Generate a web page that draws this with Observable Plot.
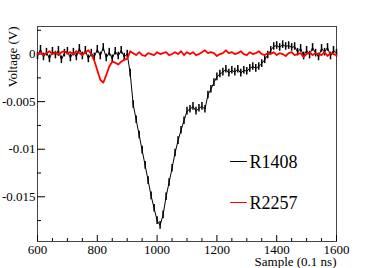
<!DOCTYPE html>
<html><head><meta charset="utf-8">
<script src="https://cdn.jsdelivr.net/npm/d3@7"></script>
<script src="https://cdn.jsdelivr.net/npm/@observablehq/plot@0.6"></script>
<style>
body{margin:0;background:#fff}
</style>
</head><body><div id="chart"></div>
<script>
// sample index -> sample number: 600 + 10*i
const sampleStart = 600, sampleStep = 10;
const seriesNames = ["R1408", "R2257"];
const seriesColors = ["#000000", "#ff0000"];
const r1408 = [
 -0.0002, 0.0005, -0.0003, 0.0002, -0.0005, 0.0003, -0.0001, 0.0004, -0.0006, 0.0001,
 0.0003, -0.0004, 0.0002, -0.0003, 0.0006, -0.0002, 0.0004, -0.0005, 0.0001, -0.0003,
 0.0005, -0.0002, 0.0007, -0.0004, 0.0002, -0.0005, 0.0003, -0.0002, 0.0004, -0.0003,
 0.0000,
 -0.0020, -0.0053, -0.0069, -0.0085, -0.0101, -0.0117, -0.0133, -0.0149, -0.0162, -0.0175,
 -0.0180, -0.0169, -0.0150, -0.0135, -0.0120, -0.0104, -0.0091, -0.0080, -0.0070, -0.0060,
 -0.0058, -0.0055, -0.0060, -0.0057, -0.0055, -0.0058,
 -0.0043, -0.0037, -0.0030, -0.0024, -0.0021, -0.0019,
 -0.0016, -0.0020, -0.0017, -0.0019, -0.0016, -0.0020, -0.0017, -0.0018,
 -0.0015, -0.0013, -0.0015, -0.0013, -0.0010, -0.0006, -0.0001, 0.0004,
 0.0008, 0.0009, 0.0007, 0.0010, 0.0008, 0.0009, 0.0007, 0.0008,
 0.0002, 0.0006, -0.0002, 0.0004, -0.0001, 0.0007, 0.0001, -0.0003, 0.0006, 0.0002, 0.0007, -0.0002, 0.0004, 0.0001
];
const r1408Err = 0.0004;
const r2257 = [
 0.0000, 0.0002, -0.0001, 0.0001, 0.0003, 0.0000, 0.0002, -0.0001, 0.0002, 0.0003,
 0.0001, 0.0002, 0.0000, 0.0003, 0.0001, -0.0001, 0.0002, 0.0004, 0.0000,
 -0.0007, -0.0017, -0.0027, -0.0030, -0.0022, -0.0013, -0.0008, -0.0009, -0.0011, -0.0008, -0.0006, -0.0005,
 0.0003, 0.0001, -0.0001, 0.0002, -0.0001, -0.0002, 0.0001, 0.0000, -0.0001, 0.0002,
 0.0000, 0.0001, 0.0002, -0.0001, 0.0000, 0.0002, 0.0000, 0.0003, -0.0001, 0.0002,
 0.0000, 0.0002, -0.0001, 0.0000, 0.0002, 0.0004, 0.0001, 0.0002, 0.0001, -0.0002,
 0.0000, 0.0001, 0.0004, 0.0001, 0.0002, 0.0000, 0.0001, 0.0003, 0.0000, -0.0001,
 0.0002, 0.0000, 0.0001, 0.0003, 0.0000, -0.0001, 0.0001, 0.0000, 0.0002, -0.0001,
 0.0001, 0.0000, -0.0002, 0.0001, 0.0002, -0.0001, 0.0000, 0.0001, -0.0003, 0.0000,
 0.0002, -0.0001, 0.0001, 0.0000, -0.0001, 0.0002, -0.0002, 0.0001, 0.0000, -0.0001
];
const xMajorTicks = [600, 800, 1000, 1200, 1400, 1600];
const xMinorTicks = [650, 700, 750, 850, 900, 950, 1050, 1100, 1150, 1250, 1300, 1350, 1450, 1500, 1550];
const yMajorTicks = [0, -0.005, -0.01, -0.015];
const yMinorTicks = [0.0025, -0.0025, -0.0075, -0.0125, -0.0175];
const xTitle = "Sample (0.1 ns)";
const yTitle = "Voltage (V)";

const FONT = "Liberation Serif";
const black = r1408.map((v, i) => ({x: sampleStart + i * sampleStep, y: v}));
const red = r2257.map((v, i) => ({x: sampleStart + i * sampleStep, y: v}));
const fmt = d => d === 0 ? "0" : String(d);
const hline = {draw(context, l) { context.moveTo(0, 0); context.lineTo(0, -l); }};

const chart = Plot.plot({
  width: 374, height: 268,
  marginLeft: 37, marginRight: 38, marginTop: 26, marginBottom: 27,
  x: {domain: [600, 1600]},
  y: {domain: [-0.0197, 0.0029]},
  marks: [
    Plot.frame({stroke: "#444", strokeWidth: 1}),
    Plot.axisX(xMajorTicks, {tickSize: 0, tickPadding: 3, fontSize: 13, fontFamily: FONT, tickFormat: fmt, label: null, fill: "#000"}),
    Plot.axisX(xMajorTicks, {tickSize: -6, tickFormat: () => "", label: null, stroke: "#000"}),
    Plot.axisX(xMinorTicks, {tickSize: -3, tickFormat: () => "", label: null, stroke: "#000"}),
    Plot.axisY(yMajorTicks, {tickSize: 0, tickPadding: 2, fontSize: 13, fontFamily: FONT, tickFormat: fmt, label: null, fill: "#000"}),
    Plot.axisY(yMajorTicks, {tickSize: -8, tickFormat: () => "", label: null, stroke: "#000"}),
    Plot.axisY(yMinorTicks, {tickSize: -4, tickFormat: () => "", label: null, stroke: "#000"}),
    Plot.text([xTitle], {frameAnchor: "bottom-right", textAnchor: "end", dy: 20, lineAnchor: "middle", fontSize: 13, fontFamily: FONT, fill: "#000"}),
    Plot.text([yTitle], {frameAnchor: "top-left", textAnchor: "end", rotate: -90, dx: -30, fontSize: 13, fontFamily: FONT, fill: "#000"}),
    Plot.ruleX(black, {x: "x", y1: d => d.y - r1408Err, y2: d => d.y + r1408Err, stroke: seriesColors[0], strokeWidth: 1.5}),
    Plot.line(black, {x: "x", y: "y", stroke: seriesColors[0], strokeWidth: 1}),
    Plot.line(red, {x: "x", y: "y", stroke: seriesColors[1], strokeWidth: 1.8}),
    // legend
    Plot.vector([0], {frameAnchor: "top-left", dx: 193, dy: 135, length: 16, rotate: 90, anchor: "start", shape: hline, stroke: seriesColors[0], strokeWidth: 1}),
    Plot.text([seriesNames[0]], {frameAnchor: "top-left", dx: 212, dy: 136, textAnchor: "start", lineAnchor: "middle", fontSize: 18, fontFamily: FONT, fill: "#000"}),
    Plot.vector([0], {frameAnchor: "top-left", dx: 193, dy: 176, length: 16, rotate: 90, anchor: "start", shape: hline, stroke: seriesColors[1], strokeWidth: 1}),
    Plot.text([seriesNames[1]], {frameAnchor: "top-left", dx: 212, dy: 177, textAnchor: "start", lineAnchor: "middle", fontSize: 18, fontFamily: FONT, fill: "#000"})
  ]
});
document.getElementById("chart").appendChild(chart);
</script>
</body></html>
